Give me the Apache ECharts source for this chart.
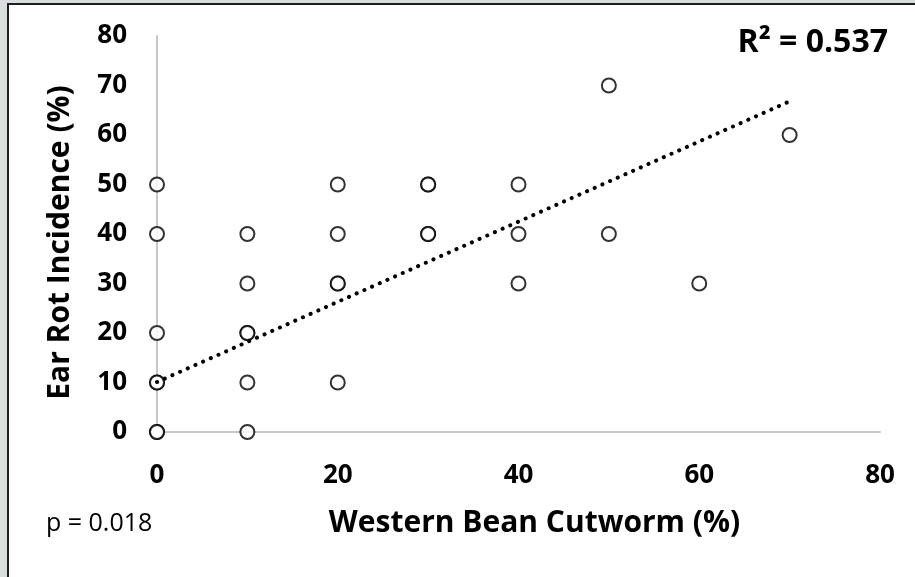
<!DOCTYPE html>
<html>
<head>
<meta charset="utf-8">
<script src="https://cdn.jsdelivr.net/npm/echarts@6/dist/echarts.min.js"></script>
<style>
  html, body { margin: 0; padding: 0; width: 915px; height: 577px; background: #d9dddd; overflow: hidden; }
  #frame { position: absolute; left: 7px; top: 3px; right: 0; bottom: 0; background: #fff;
           border-left: 2px solid #1e1e1e; border-top: 2px solid #1e1e1e; }
  #chart { position: absolute; left: 0; top: 0; width: 915px; height: 577px; }
</style>
</head>
<body>
<div id="frame"></div>
<div id="chart"></div>
<script>
// Western bean cutworm damage (%) vs ear rot incidence (%), one entry per plot
const cutworm = [0, 0, 0, 0, 0, 0, 0, 10, 10, 10, 10, 10, 10, 20, 20, 20, 20, 20, 30, 30, 30, 30, 40, 40, 40, 50, 50, 60, 70];
const earRot  = [50, 40, 20, 10, 10, 0, 0, 40, 30, 20, 20, 10, 0, 50, 40, 30, 30, 10, 50, 50, 40, 40, 50, 40, 30, 70, 40, 30, 60];

// Linear trend line end points
const trendX = [0, 70];
const trendY = [10.1, 66.8];

const xTicks = [0, 20, 40, 60, 80];
const yTicks = [0, 10, 20, 30, 40, 50, 60, 70, 80];

const rSquaredText = 'R² = 0.537';
const pValueText = 'p = 0.018';

const font = '"Open Sans", Lato, sans-serif';

const points = cutworm.map((x, i) => [x, earRot[i]]);
const trend = trendX.map((x, i) => [x, trendY[i]]);

const chart = echarts.init(document.getElementById('chart'), null, { renderer: 'canvas' });
chart.setOption({
  backgroundColor: 'transparent',
  animation: false,
  grid: { left: 157, right: 35, top: 36, bottom: 145, containLabel: false },
  xAxis: {
    type: 'value', min: xTicks[0], max: xTicks[xTicks.length - 1], interval: 20,
    axisLine: { show: true, onZero: false, lineStyle: { color: '#c6c6c6', width: 2 } },
    axisTick: { show: false },
    splitLine: { show: false },
    axisLabel: { margin: 31, fontFamily: font, fontWeight: 'bold', fontSize: 26, color: '#000' },
    name: 'Western Bean Cutworm (%)', nameLocation: 'middle', nameGap: 76,
    nameTextStyle: { fontFamily: font, fontWeight: 'bold', fontSize: 30, color: '#000', padding: [0, 0, 0, 32] }
  },
  yAxis: {
    type: 'value', min: yTicks[0], max: yTicks[yTicks.length - 1], interval: 10,
    axisLine: { show: true, onZero: false, lineStyle: { color: '#c6c6c6', width: 2 } },
    axisTick: { show: false },
    splitLine: { show: false },
    axisLabel: { margin: 30, fontFamily: font, fontWeight: 'bold', fontSize: 26, color: '#000', padding: [5, 0, 0, 0] },
    name: 'Ear Rot Incidence (%)', nameLocation: 'middle', nameGap: 82, nameRotate: 90,
    nameTextStyle: { fontFamily: font, fontWeight: 'bold', fontSize: 30, color: '#000', padding: [0, 17, 0, 0] }
  },
  graphic: [
    { type: 'text', x: 888, y: 43,
      style: { text: rSquaredText, font: 'bold 32px ' + font, fill: '#000', align: 'right', verticalAlign: 'middle' } },
    { type: 'text', x: 46, y: 524,
      style: { text: pValueText, font: '25px ' + font, fill: '#000', align: 'left', verticalAlign: 'middle' } }
  ],
  series: [
    {
      type: 'scatter', data: points, symbol: 'circle', symbolSize: 14, z: 2,
      itemStyle: { color: '#fff', borderColor: '#000', borderWidth: 2 }
    },
    {
      type: 'line', data: trend, symbol: 'none', z: 3, silent: true,
      lineStyle: { color: '#000', width: 4, type: [0.1, 8.3], cap: 'round' }
    }
  ]
});
</script>
</body>
</html>
